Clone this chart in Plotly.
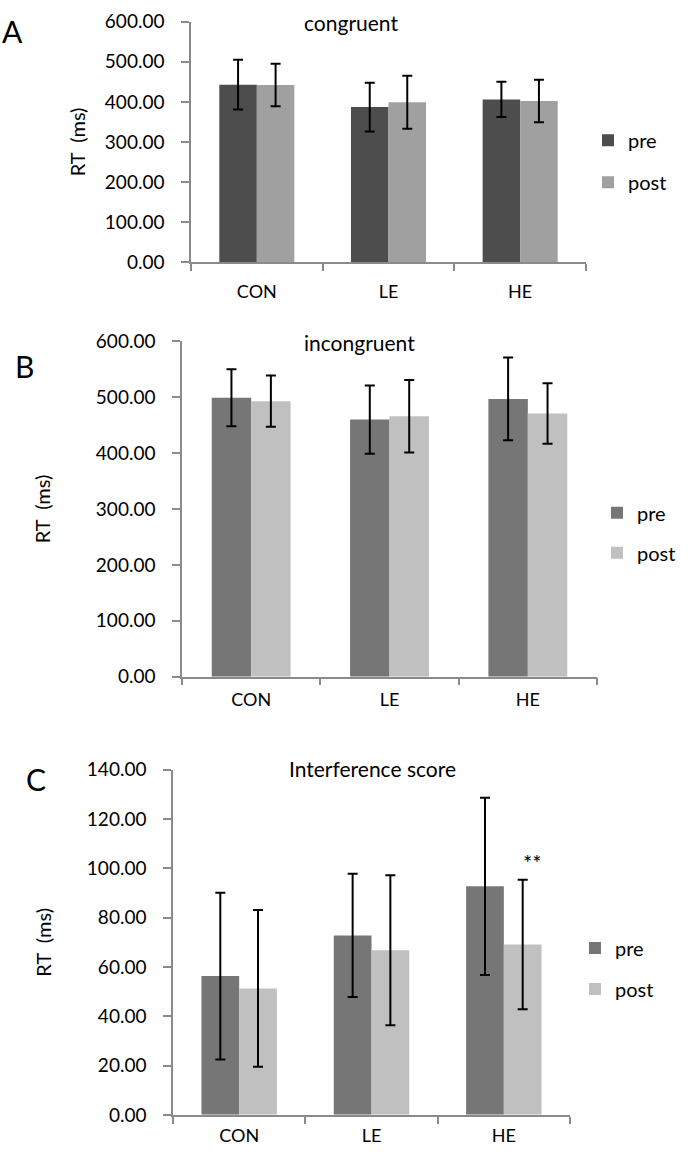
import plotly.graph_objects as go

categories = ["CON", "LE", "HE"]

cong_pre = [443, 387, 406]
cong_pre_err = [62, 61, 44]
cong_post = [442, 399, 402]
cong_post_err = [53, 66, 53]

incong_pre = [499, 460, 497]
incong_pre_err = [51, 61, 74]
incong_post = [493, 466, 471]
incong_post_err = [46, 65, 54]

inter_pre = [56.3, 72.8, 92.7]
inter_pre_err = [33.8, 25.0, 36.0]
inter_post = [51.3, 66.8, 69.1]
inter_post_err = [31.8, 30.4, 26.3]

W, H = 688, 1168
FONT = "Lato"

def xd(a, b):
    return [a / W, b / W]

def yd(top, bottom):
    return [1 - bottom / H, 1 - top / H]

fig = go.Figure()

panels = [
    dict(pre=cong_pre, pe=cong_pre_err, post=cong_post, qe=cong_post_err,
         c1="#4d4d4d", c2="#a0a0a0", x="x", y="y", leg="legend", k="a"),
    dict(pre=incong_pre, pe=incong_pre_err, post=incong_post, qe=incong_post_err,
         c1="#767676", c2="#c0c0c0", x="x2", y="y2", leg="legend2", k="b"),
    dict(pre=inter_pre, pe=inter_pre_err, post=inter_post, qe=inter_post_err,
         c1="#767676", c2="#c0c0c0", x="x3", y="y3", leg="legend3", k="c"),
]

for p in panels:
    for name, vals, errs, col in [("pre", p["pre"], p["pe"], p["c1"]),
                                  ("post", p["post"], p["qe"], p["c2"])]:
        fig.add_trace(go.Bar(
            x=categories, y=vals, name=name, xaxis=p["x"], yaxis=p["y"],
            legend=p["leg"], legendgroup=p["k"] + name,
            marker=dict(color=col, line=dict(width=0)),
            error_y=dict(type="data", array=errs, color="black", thickness=2, width=5),
        ))

axcol = "#8a8a8a"
ytickfont = dict(family=FONT, size=19, color="black")
xtickfont = dict(family=FONT, size=18, color="black")

def xaxis(dom, anchor, standoff):
    return dict(domain=dom, anchor=anchor, type="category", showline=True, linecolor=axcol,
                linewidth=1.5, ticks="outside", tickson="boundaries", ticklen=7, tickcolor=axcol,
                tickwidth=1.5, tickfont=xtickfont, ticklabelstandoff=standoff,
                showgrid=False, zeroline=False, fixedrange=True)

def yaxis(dom, anchor, rng, dtick, standoff):
    return dict(domain=dom, anchor=anchor, range=rng, dtick=dtick, tickformat=".2f",
                showline=True, linecolor=axcol, linewidth=1.5, ticks="outside", ticklen=8,
                tickwidth=1.5, tickcolor=axcol, tickfont=ytickfont, ticklabelstandoff=13,
                showgrid=False, zeroline=False, fixedrange=True,
                title=dict(text="RT  (ms)", font=dict(family=FONT, size=20, color="black"),
                           standoff=standoff))

legfont = dict(family=FONT, size=20, color="black")

fig.update_layout(
    width=W, height=H, margin=dict(l=0, r=0, t=0, b=0), autosize=False,
    paper_bgcolor="white", plot_bgcolor="white",
    font=dict(family=FONT, size=18, color="black"),
    barmode="group", bargap=0.43, bargroupgap=0,
    xaxis=xaxis(xd(191, 586), "y", 13),
    yaxis=yaxis(yd(10, 255), "x", [0, 600], 100, 14),
    xaxis2=xaxis(xd(182, 597), "y2", 6),
    yaxis2=yaxis(yd(336, 678), "x2", [0, 600], 100, 40),
    xaxis3=xaxis(xd(173, 570), "y3", 4),
    yaxis3=yaxis(yd(773, 1125), "x3", [0, 140], 20, 30),
    legend=dict(x=588 / W, y=1 - 111 / H, xanchor="left", yanchor="top",
                font=legfont, tracegroupgap=13, itemwidth=30, bgcolor="rgba(0,0,0,0)"),
    legend2=dict(x=597 / W, y=1 - 491 / H, xanchor="left", yanchor="top",
                 font=legfont, tracegroupgap=11, itemwidth=30, bgcolor="rgba(0,0,0,0)"),
    legend3=dict(x=575 / W, y=1 - 935 / H, xanchor="left", yanchor="top",
                 font=legfont, tracegroupgap=12, itemwidth=30, bgcolor="rgba(0,0,0,0)"),
    showlegend=True,
)

letters = [("A", 12, 19), ("B", 24, 361), ("C", 36, 782)]
for t, x, y in letters:
    fig.add_annotation(text=t, x=x / W, y=1 - y / H, xref="paper", yref="paper",
                       xanchor="center", yanchor="middle", showarrow=False,
                       font=dict(family=FONT, size=30, color="black"))

titles = [("congruent", 351, 11), ("incongruent", 359, 337), ("Interference score", 372, 772)]
for t, x, y in titles:
    fig.add_annotation(text=t, x=x / W, y=1 - y / H, xref="paper", yref="paper",
                       xanchor="center", yanchor="middle", showarrow=False,
                       font=dict(family=FONT, size=21, color="black"))

fig.add_annotation(text="**", x="HE", y=inter_post[2] + inter_post_err[2], xref="x3", yref="y3",
                   xshift=29, yshift=17, yanchor="middle", showarrow=False,
                   font=dict(family=FONT, size=22, color="black"))

fig.write_html("out.html", config={"displayModeBar": False},
               post_script="document.body.style.margin='0';")
